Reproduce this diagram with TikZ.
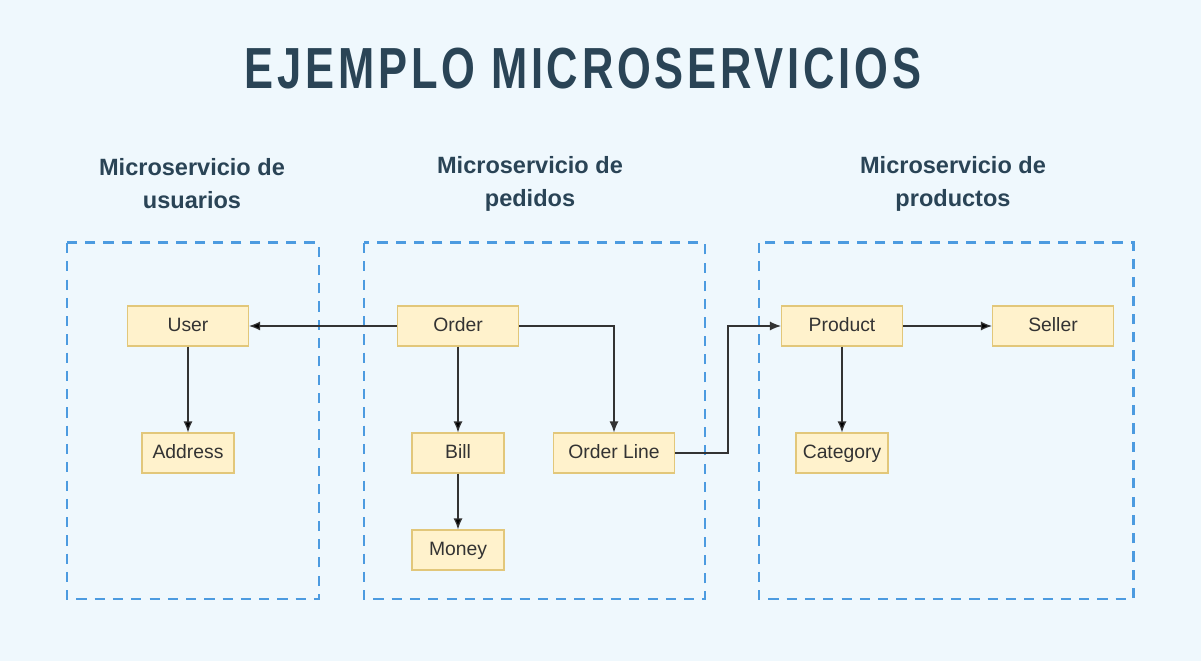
\documentclass[tikz,border=0pt]{standalone}
\usepackage{fontspec}
\usepackage{tikz}
\usetikzlibrary{arrows.meta}
\setmainfont{Liberation Sans}
\newfontfamily\titlefont[FakeStretch=0.75,LetterSpace=6.5]{Liberation Sans}
\definecolor{bgblue}{HTML}{EFF8FD}
\definecolor{dashblue}{HTML}{4C9BE0}
\definecolor{entfill}{HTML}{FFF2CC}
\definecolor{entdraw}{HTML}{E2C77A}
\definecolor{headcol}{HTML}{2A4456}
\definecolor{txtcol}{HTML}{333333}

\begin{document}
\begin{tikzpicture}[x=0.02cm,y=-0.02cm,
    entity/.style={shape=rectangle,draw=entdraw,fill=entfill,line width=0.6pt,
        minimum width=2.42cm,minimum height=0.8cm,inner sep=0pt,
        text height=8pt,text depth=2.3pt,
        font=\fontsize{11}{13}\selectfont,text=txtcol},
    small/.style={entity,minimum width=1.84cm},
    service/.style={draw=dashblue,line width=1.7pt,dash pattern=on 5.8pt off 4.6pt},
    heading/.style={align=center,font=\bfseries\fontsize{13.4}{18.8}\selectfont,text=headcol},
    link/.style={draw=txtcol,line width=0.7pt,-{Latex[length=2.2mm,width=1.8mm]}}]
    \useasboundingbox[fill=bgblue] (0,0) rectangle (1201,661);
    \node[font=\titlefont\bfseries\fontsize{33}{38}\selectfont,text=headcol] (title) at (583, 69) {EJEMPLO MICROSERVICIOS};
    % service boxes
    \draw[service] (67,243) rectangle (319,599);
    \draw[service] (364,243) rectangle (705,599);
    \draw[service] (759,243) rectangle (1133,599);
    \node[heading] (husers)    at (192, 184) {Microservicio de\\usuarios};
    \node[heading] (hpedidos)  at (530, 184) {Microservicio de\\pedidos};
    \node[heading] (hproducts) at (953, 184) {Microservicio de\\productos};
    % entities
    \node[entity] (user)     at (188, 326) {User};
    \node[small]  (address)  at (188, 453) {Address};
    \node[entity] (order)    at (458, 326) {Order};
    \node[small]  (bill)     at (458, 453) {Bill};
    \node[small]  (money)    at (458, 550) {Money};
    \node[entity] (ordline)  at (614, 453) {Order Line};
    \node[entity] (product)  at (842, 326) {Product};
    \node[entity] (seller)   at (1053, 326) {Seller};
    \node[small]  (category) at (842, 453) {Category};
    % connectors
    \path[link] (order) edge (user);
    \path[link] (user) edge (address);
    \path[link] (order) edge (bill);
    \path[link] (bill) edge (money);
    \draw[link] (order.east) -| (ordline.north);
    \draw[link] (ordline.east) -- ++(53,0) |- (product.west);
    \path[link] (product) edge (seller);
    \path[link] (product) edge (category);
\end{tikzpicture}
\end{document}
